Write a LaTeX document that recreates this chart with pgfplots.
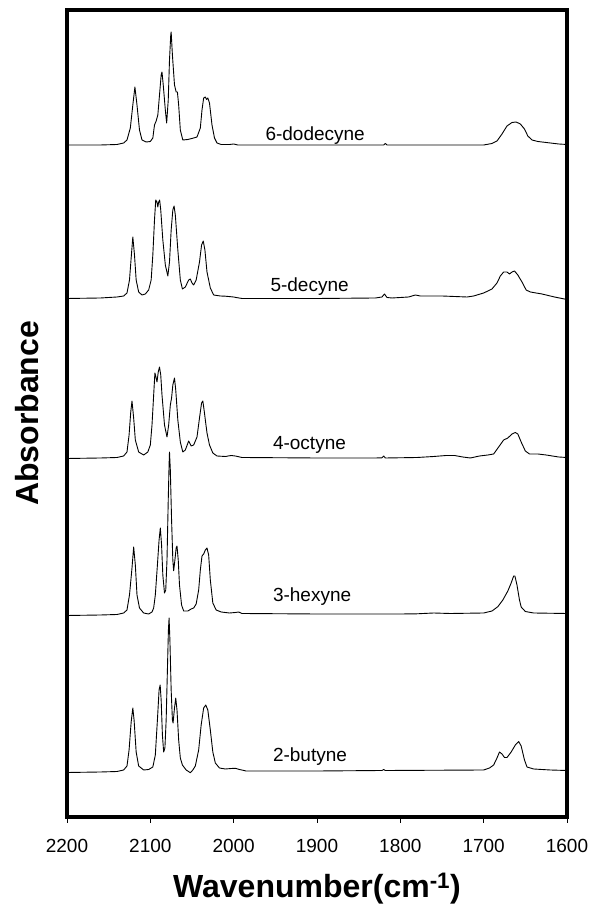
\documentclass[border=0pt]{standalone}
\usepackage{fontspec}
\setmainfont{Liberation Sans}
\usepackage{pgfplots}
\pgfplotsset{compat=1.18}
\usepackage{pgfplotstable}

\pgfplotstableread{
w v
2200 672
2160 672
2140 672.5
2132 674
2128 677
2124 689
2121 712
2118.5 730
2116 712
2113 687
2110 677
2105 675
2100 675.5
2097 679
2095 692
2093 696
2091 702
2089 722
2087 742
2086 745
2084.5 732
2082 707
2080.4 694
2078.5 717
2077 757
2075.5 782
2075 785
2073.5 762
2071 732
2069 725
2067.5 725
2066 712
2064 687
2061 677
2055 677.5
2048 679
2044 680
2040 689
2038 707
2036 719
2034 720
2032.5 717.5
2031 719
2029 714
2026 692
2023 679
2020 674
2015 672.5
2005 672.5
2000 673
1995 672
1900 672
1820 672
1818 673.5
1816 672
1700 672
1690 673.5
1684 676
1678 683
1672 691
1666 694.5
1661 695
1656 693
1651 688
1647 681
1642 677
1635 675.5
1625 674.5
1610 673
1600 672.5
}\dodecyne

\pgfplotstableread{
w v
2200 518.5
2160 519
2140 520
2132 521
2128 524
2125 537
2123 559
2121 580
2119 562
2117 537
2114 525
2110 522
2106 523
2102 527
2099 537
2097 562
2095 597
2093.5 617
2092 615
2091 610
2090 615
2088.8 617
2087.5 607
2085 577
2082 552
2079 541
2077 555
2075 587
2073 607
2071.5 611
2070 602
2067 567
2064 537
2061.5 528
2058 530
2054 537
2052 538
2050 534
2048 532
2045 537
2041 555
2038.5 572
2036.5 576
2034.5 567
2032 545
2028 529
2024 522
2016 521
2010 520.8
2000 520
1997 519.5
1990 518.5
1900 518.5
1830 519
1822 520
1819 523
1816 519.5
1810 519
1790 520
1782 522
1776 521
1750 521
1720 520
1712 521
1700 524
1690 528
1684 534
1680 541
1676 545
1672 545
1669 543
1666 545
1663 546
1659 542
1654 535
1649 527
1644 525
1630 523
1615 520
1600 517.5
}\decyne

\pgfplotstableread{
w v
2200 358.5
2160 359
2140 359.5
2132 361
2128 365
2125.5 382
2123.5 405
2122 416
2120 399
2118 377
2114 365
2108 362
2103 365
2100 372
2098 392
2096 422
2094.5 444
2093 439
2092 435
2090.5 445
2089 450
2087.5 442
2086 422
2083 392
2080 380
2078 392
2076 412
2074.5 419
2073 432
2071 439
2069.5 427
2067 397
2064 375
2061 365
2058 367
2054 376
2051 371
2048 372
2044 380
2041 399
2038.5 414
2037 416
2035.5 407
2032 384
2029 372
2025 364
2020 361
2010 360.5
2003 361.5
1998 361
1990 359.5
1900 359
1830 359
1822 359.2
1820 361
1818 359
1780 359.5
1760 360.5
1745 361.5
1735 361.5
1725 360
1716 359
1705 361
1695 362
1688 363
1682 370
1676 377
1671 379
1666 383
1662 384.5
1659 383
1655 375
1650 366
1645 363
1635 363
1625 362
1610 360
1600 359.5
}\octyne

\pgfplotstableread{
w v
2200 201.5
2160 202
2140 202.5
2132 204
2128 207
2125 222
2122 249
2120 270
2118 252
2116 222
2113 209
2108 204
2102 203
2098 205
2096 209
2094 222
2091.5 252
2089.5 277
2088 289
2086.5 272
2085 242
2083 224
2081.5 227
2080 257
2078.5 317
2077.5 352
2077 365
2076 347
2074.5 297
2073 257
2072 246.3
2070.5 257
2069 269
2068 271
2066.5 257
2065 232
2062.5 212
2060 206
2055 206
2051 208
2048 209
2045 213
2042 227
2040 247
2038 261
2036 263
2034 267
2032 269
2030 262
2028 237
2025 214
2021 207
2015 205
2005 204
1998 204.5
1994 205
1990 203.5
1900 203
1800 203
1780 203.2
1760 204
1740 203.5
1700 204
1690 206
1683 210.3
1677 217
1671 226
1667 234
1664 241
1662.5 241
1660 232
1657 217
1655 210
1650 205.5
1640 204
1600 203.5
}\hexyne

\pgfplotstableread{
w v
2200 44.5
2160 45
2140 45.5
2132 47
2128 51
2125.5 67
2123 95
2121 109
2119.5 97
2117 65
2114 51
2108 47
2102 47.5
2097 50
2094 62
2091.5 97
2089.5 127
2088.2 132
2087 117
2085.5 82
2084 65
2082.5 69
2081 97
2079.5 147
2078.3 187
2077.5 199
2076.5 177
2075 127
2073.5 97
2072.7 94
2071 109
2069.5 119
2068 107
2066 77
2064 59
2061.5 52
2057 47
2052 44.3
2049 47
2046 51
2042 67
2039 92
2036 109
2033.5 112
2031 107
2028 87
2025 65
2022 54
2017 49
2010 48
2003 48.5
1998 48.7
1993 47.5
1985 46
1900 46
1822 46.5
1820 47.5
1818 46.5
1700 47
1693 49
1688 52
1684 59
1681 65
1678 63
1675 59.5
1672 59.5
1667 65
1662 72
1658 75.5
1655 71
1651 57
1648 50
1640 48
1620 47
1600 46.5
}\butyne

\begin{document}
\begin{tikzpicture}
\begin{axis}[
  at={(67pt,99pt)}, anchor=south west,
  scale only axis, width=500pt, height=807pt,
  xmin=1600, xmax=2200, ymin=0, ymax=807,
  x dir=reverse,
  xtick={1600,1700,...,2200},
  ytick=\empty,
  xtick pos=bottom,
  tick align=outside,
  major tick length=6pt,
  major tick style={line width=0.6pt, black},
  axis line style={line width=4pt, line join=miter, line cap=rect},
  /pgf/number format/assume math mode=true,
  /pgf/number format/1000 sep={},
  xticklabel style={font=\fontsize{19}{22}\selectfont, anchor=base, yshift=-30pt},
  xlabel={\textbf{Wavenumber(cm\textsuperscript{-1})}},
  ylabel={\textbf{Absorbance}},
  every axis x label/.style={at={(axis description cs:0.5,0)}, anchor=center, yshift=-72pt, font=\fontsize{32}{36}\selectfont},
  every axis y label/.style={at={(axis description cs:0,0.5)}, anchor=center, rotate=90, yshift=40pt, font=\fontsize{32}{36}\selectfont},
  clip=false,
]
\addplot[black, line width=0.9pt, line join=round] table[x=w, y=v] {\dodecyne};
\addplot[black, line width=0.9pt, line join=round] table[x=w, y=v] {\decyne};
\addplot[black, line width=0.9pt, line join=round] table[x=w, y=v] {\octyne};
\addplot[black, line width=0.9pt, line join=round] table[x=w, y=v] {\hexyne};
\addplot[black, line width=0.9pt, line join=round] table[x=w, y=v] {\butyne};
\node[anchor=base west, inner sep=0pt, font=\fontsize{19}{22}\selectfont] at (axis cs:1962,676.5) {6-dodecyne};
\node[anchor=base west, inner sep=0pt, font=\fontsize{19}{22}\selectfont] at (axis cs:1956,525) {5-decyne};
\node[anchor=base west, inner sep=0pt, font=\fontsize{19}{22}\selectfont] at (axis cs:1953,367) {4-octyne};
\node[anchor=base west, inner sep=0pt, font=\fontsize{19}{22}\selectfont] at (axis cs:1953,215) {3-hexyne};
\node[anchor=base west, inner sep=0pt, font=\fontsize{19}{22}\selectfont] at (axis cs:1953,55) {2-butyne};
\end{axis}
\pgfresetboundingbox
\path[use as bounding box] (0,0) rectangle (590pt,916pt);
\end{tikzpicture}
\end{document}
